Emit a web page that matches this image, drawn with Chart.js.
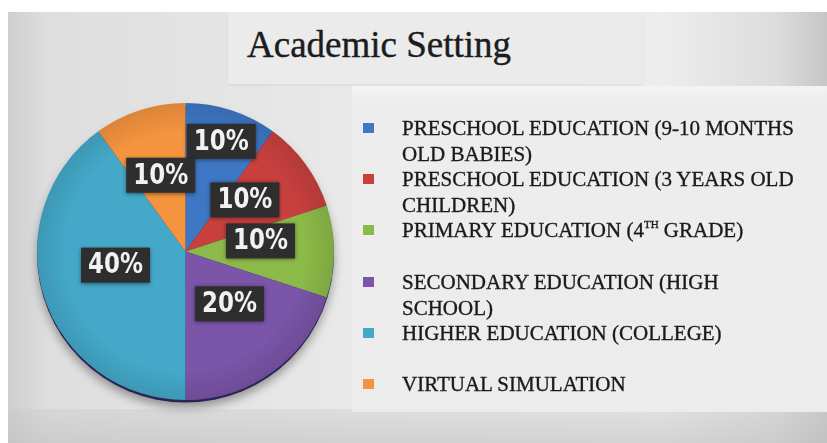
<!DOCTYPE html>
<html>
<head>
<meta charset="utf-8">
<script src="https://cdn.jsdelivr.net/npm/chart.js@4.4.0/dist/chart.umd.min.js"></script>
<style>
  html, body { margin: 0; padding: 0; background: #fff; }
  #page { position: relative; width: 827px; height: 443px; overflow: hidden; }
  .backdrop {
    position: absolute; left: 8px; top: 12px; right: 0; bottom: 0;
    background: linear-gradient(to right, #cfcfcf 0%, #dedede 5%, #e4e4e4 25%, #e9e9e9 42%, #ededed 80%, #dcdcdc 94%, #c6c6c6 100%);
  }
  .backdrop::after {
    content: ''; position: absolute; left: 0; right: 0; bottom: 0; height: 34px;
    background: linear-gradient(to bottom, rgba(200,200,200,0.35), rgba(190,190,190,0.55));
  }
  .titleBox {
    position: absolute; left: 228px; top: 12px; width: 415px; height: 72px;
    background: #ebebeb; box-shadow: 0 1px 2px rgba(0,0,0,0.08);
  }
  .title {
    position: absolute; left: 247px; top: 26px; margin: 0; font-weight: normal;
    font: 37px/37px "Liberation Serif", "Times New Roman", serif; color: #1c1c1c;
    -webkit-text-stroke: 0.4px #1c1c1c;
  }
  .legendPanel {
    position: absolute; left: 352px; top: 86px; width: 475px; height: 326px;
    background: linear-gradient(to bottom, #f4f4f4 0px, #ededed 14px, #ececec 100%);
  }
  #legend { position: absolute; left: 352px; top: 115px; }
  .item { position: relative; height: 51.2px; }
  .swatch { position: absolute; left: 11px; top: 8px; width: 11px; height: 10px; }
  .text {
    position: absolute; left: 50px; top: 0; white-space: nowrap;
    font: 21px/26px "Liberation Serif", "Times New Roman", serif; color: #1a1a1a;
    -webkit-text-stroke: 0.35px #1a1a1a;
  }
  .text sup { font-size: 11px; line-height: 0; vertical-align: 9px; }
  #chartWrap { position: absolute; left: 0; top: 0; width: 827px; height: 443px; }
</style>
</head>
<body>
<div id="page">
  <div class="backdrop"></div>
  <div class="titleBox"></div>
  <div class="legendPanel"></div>
  <h1 class="title">Academic Setting</h1>
  <div id="chartWrap"><canvas id="pie"></canvas></div>
  <div id="legend"></div>
</div>
<script>
// categories, one line per entry; ^ marks a superscript
const settings = [
  ['PRESCHOOL EDUCATION (9-10 MONTHS', 'OLD BABIES)'],
  ['PRESCHOOL EDUCATION (3 YEARS OLD', 'CHILDREN)'],
  ['PRIMARY EDUCATION (4^TH GRADE)'],
  ['SECONDARY EDUCATION (HIGH', 'SCHOOL)'],
  ['HIGHER EDUCATION (COLLEGE)'],
  ['VIRTUAL SIMULATION']
];
const shares = [10, 10, 10, 20, 40, 10];
const sliceColours = ['#3e77c4', '#c7403e', '#8cba48', '#7a55a8', '#44a9c9', '#f4943f'];

// where each percentage tag sits: fraction of the radius and a small turn (degrees)
const tagRadius = [0.78, 0.53, 0.51, 0.46, 0.48, 0.54];
const tagTurn = [0, -5, -8, -4, 7, 0];

// legend on the right, built from the same arrays
const legendBox = document.getElementById('legend');
settings.forEach((lines, i) => {
  const item = document.createElement('div');
  item.className = 'item';
  const html = lines.map(l => l.replace(/\^(\w+)/, '<sup>$1</sup>')).join('<br>');
  item.innerHTML = `<span class="swatch" style="background:${sliceColours[i]}"></span><span class="text">${html}</span>`;
  legendBox.appendChild(item);
});

// dark rim + soft drop shadow under the pie
const pieRim = {
  id: 'pieRim',
  beforeDatasetsDraw(chart) {
    const arc = chart.getDatasetMeta(0).data[0];
    if (!arc) return;
    const { x, y, outerRadius } = arc.getProps(['x', 'y', 'outerRadius'], true);
    const ctx = chart.ctx;
    ctx.save();
    ctx.shadowColor = 'rgba(0,0,0,0.35)';
    ctx.shadowBlur = 10;
    ctx.shadowOffsetY = 5;
    ctx.fillStyle = '#2a2452';
    ctx.beginPath();
    ctx.arc(x, y + 2.5, outerRadius, 0, Math.PI * 2);
    ctx.fill();
    ctx.restore();
  },
  afterDatasetsDraw(chart) {
    const arc = chart.getDatasetMeta(0).data[0];
    if (!arc) return;
    const { x, y, outerRadius } = arc.getProps(['x', 'y', 'outerRadius'], true);
    const ctx = chart.ctx;
    // slight darkening towards the edge for a rounded look
    const g = ctx.createRadialGradient(x, y, outerRadius * 0.8, x, y, outerRadius);
    g.addColorStop(0, 'rgba(0,0,0,0)');
    g.addColorStop(1, 'rgba(0,0,0,0.10)');
    ctx.save();
    ctx.fillStyle = g;
    ctx.beginPath();
    ctx.arc(x, y, outerRadius, 0, Math.PI * 2);
    ctx.fill();
    ctx.restore();
  }
};

// dark percentage tags on the slices
const shareTags = {
  id: 'shareTags',
  afterDatasetsDraw(chart) {
    const ctx = chart.ctx;
    const meta = chart.getDatasetMeta(0);
    meta.data.forEach((arc, i) => {
      const p = arc.getProps(['x', 'y', 'startAngle', 'endAngle', 'outerRadius'], true);
      const mid = (p.startAngle + p.endAngle) / 2 + tagTurn[i] * Math.PI / 180;
      const r = p.outerRadius * tagRadius[i];
      const cx = p.x + Math.cos(mid) * r;
      const cy = p.y + Math.sin(mid) * r;
      const label = chart.data.datasets[0].data[i] + '%';

      ctx.save();
      ctx.font = 'bold 28px "DejaVu Sans", Verdana, sans-serif';
      const squeeze = 0.82;
      const w = ctx.measureText(label).width * squeeze + 14;
      const h = 35;
      ctx.shadowColor = 'rgba(0,0,0,0.45)';
      ctx.shadowBlur = 4;
      ctx.shadowOffsetY = 1;
      ctx.fillStyle = '#2e2e2e';
      ctx.fillRect(cx - w / 2, cy - h / 2, w, h);
      ctx.shadowColor = 'transparent';
      ctx.translate(cx, cy + 1);
      ctx.scale(squeeze, 1);
      ctx.fillStyle = '#f2f2f2';
      ctx.textAlign = 'center';
      ctx.textBaseline = 'middle';
      ctx.fillText(label, 0, 0);
      ctx.restore();
    });
  }
};

new Chart(document.getElementById('pie'), {
  type: 'pie',
  data: {
    labels: settings,
    datasets: [{
      data: shares,
      backgroundColor: sliceColours,
      borderWidth: 0
    }]
  },
  options: {
    responsive: true,
    maintainAspectRatio: false,
    animation: false,
    layout: { padding: { left: 35, top: 103, right: 491, bottom: 43 } },
    plugins: {
      legend: { display: false },
      tooltip: { enabled: false }
    }
  },
  plugins: [pieRim, shareTags]
});
</script>
</body>
</html>
